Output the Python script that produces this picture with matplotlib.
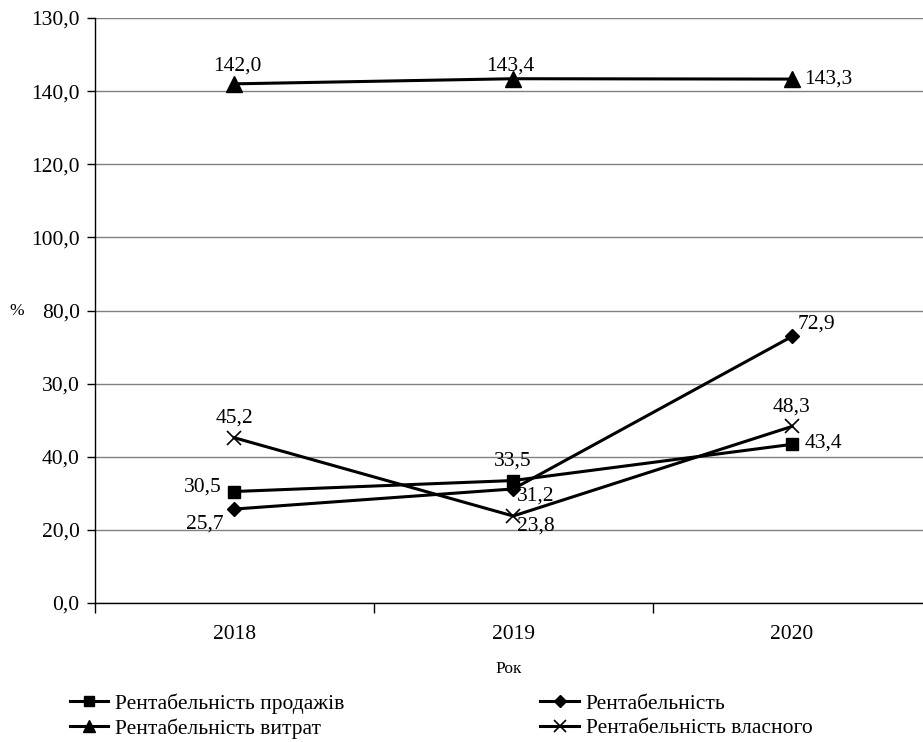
import matplotlib
matplotlib.use("Agg")
import matplotlib.pyplot as plt
from matplotlib.ticker import FixedLocator, FixedFormatter

plt.rcParams['font.family'] = ['Liberation Serif', 'DejaVu Serif']

years = ["2018", "2019", "2020"]
sales = [30.5, 33.5, 43.4]
profitability = [25.7, 31.2, 72.9]
costs = [142.0, 143.4, 143.3]
equity = [45.2, 23.8, 48.3]

y_ticks = [0, 20, 40, 60, 80, 100, 120, 140, 160]
y_tick_labels = ["0,0", "20,0", "40,0", "30,0", "80,0", "100,0", "120,0", "140,0", "130,0"]

series_names = ["Рентабельність продажів", "Рентабельність",
                "Рентабельність витрат", "Рентабельність власного"]

FS = 15.5

fig = plt.figure(figsize=(9.23, 7.42), dpi=100)
ax = fig.add_axes([0.1029, 0.1873, 0.8971, 0.7884])

x = list(range(len(years)))
lw = 2.2
l1, = ax.plot(x, sales, color='black', lw=lw, marker='s', ms=9, zorder=3)
l2, = ax.plot(x, profitability, color='black', lw=lw, marker='D', ms=7.5, zorder=3)
l3, = ax.plot(x, costs, color='black', lw=lw, marker='^', ms=11, zorder=3)
l4, = ax.plot(x, equity, color='black', lw=lw, marker='x', ms=10, mew=1.2, zorder=3)

def fmt(v):
    return f"{v:.1f}".replace(".", ",")

def label(xi, v, dx, dy, ha='center', va='center'):
    ax.annotate(fmt(v), (xi, v), xytext=(dx, dy), textcoords='offset points',
                ha=ha, va=va, fontsize=FS)

# value labels
label(0, costs[0], 2, 13)
label(1, costs[1], -2, 9)
label(2, costs[2], 9, 0, ha='left')
label(0, equity[0], 0, 14)
label(0, sales[0], -9, 3, ha='right')
label(0, profitability[0], -8, -11, ha='right')
label(1, sales[1], 0, 14)
label(1, profitability[1], 3, -5, ha='left')
label(1, equity[1], 3, -7, ha='left')
label(2, profitability[2], 4, 9, ha='left')
label(2, equity[2], 0, 14)
label(2, sales[2], 9, 1, ha='left')

ax.set_xlim(-0.5, 2.47)
ax.set_ylim(0, 160)

ax.yaxis.set_major_locator(FixedLocator(y_ticks))
ax.yaxis.set_major_formatter(FixedFormatter(y_tick_labels))
ax.tick_params(axis='y', direction='out', length=6, width=1, labelsize=FS, pad=5)

ax.set_xticks(x)
ax.set_xticklabels(years)
ax.set_xticks([-0.5, 0.5, 1.5], minor=True)
ax.tick_params(axis='x', which='major', length=0, labelsize=FS, pad=16)
ax.tick_params(axis='x', which='minor', direction='out', length=7, width=1)

ax.grid(axis='y', color='#808080', lw=1)
ax.set_axisbelow(True)
for s in ['top', 'right']:
    ax.spines[s].set_visible(False)
for s in ['left', 'bottom']:
    ax.spines[s].set_color('black')
    ax.spines[s].set_linewidth(1)

ax.set_xlabel("Рок", fontsize=12.5, labelpad=12)
fig.text(17 / 923, 1 - 311 / 742, "%", fontsize=12.5, ha='center', va='center')

# row-major legend: продажів | Рентабельність / витрат | власного
leg = fig.legend([l1, l3, l2, l4],
                 [series_names[0], series_names[2], series_names[1], series_names[3]],
                 ncol=2, loc='upper left',
                 bbox_to_anchor=(0.0665, 0.077), frameon=False, fontsize=FS,
                 handlelength=1.77, handletextpad=0.33, columnspacing=9.1,
                 labelspacing=0.2, borderaxespad=0, markerscale=0.85)

fig.savefig("out.png", dpi=100)
